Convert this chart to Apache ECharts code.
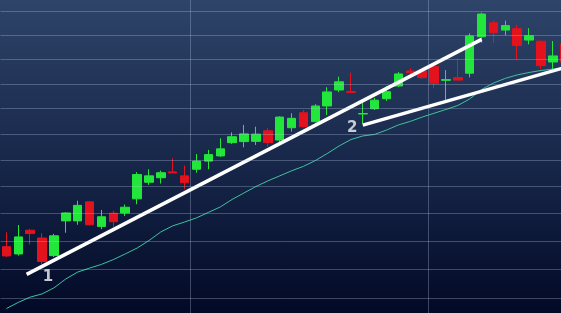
<!DOCTYPE html>
<html><head><meta charset="utf-8">
<script src="https://cdn.jsdelivr.net/npm/echarts@6/dist/echarts.min.js"></script>
<style>html,body{margin:0;padding:0;background:#0d1838;overflow:hidden;width:561px;height:313px;}#chart{width:571px;height:313px;}</style>
</head><body><div id="chart"></div>
<script>
const categories = ['1','2','3','4','5','6','7','8','9','10','11','12','13','14','15','16','17','18','19','20','21','22','23','24','25','26','27','28','29','30','31','32','33','34','35','36','37','38','39','40','41','42','43','44','45','46','47','48'];
// [open, close, low, high]
const candles = [
  [46.80,46.47,46.43,47.32],[46.54,47.15,46.48,47.58],[47.39,47.27,46.88,47.44],[47.11,46.27,46.18,47.28],
  [46.48,47.19,46.43,47.26],[47.73,48.02,47.30,48.05],[47.73,48.30,47.59,48.47],[48.43,47.59,47.56,48.46],
  [47.53,47.88,47.43,48.13],[48.01,47.70,47.51,48.10],[48.02,48.23,47.91,48.33],[48.54,49.45,48.34,49.54],
  [49.16,49.40,49.06,49.65],[49.33,49.52,49.11,49.60],[49.55,49.51,49.51,50.07],[49.40,49.14,48.90,49.79],
  [49.65,49.96,49.52,50.23],[49.96,50.21,49.65,50.39],[50.16,50.43,50.12,50.84],[50.67,50.90,50.62,51.07],
  [50.71,51.01,50.49,51.36],[50.72,51.00,50.58,51.29],[51.13,50.67,50.52,51.23],[50.77,51.67,50.67,51.70],
  [51.25,51.62,51.10,51.82],[51.84,51.29,51.26,51.95],[51.49,52.11,51.46,52.18],[52.11,52.67,51.75,52.86],
  [52.75,53.08,52.66,53.29],[52.69,52.65,52.62,53.45],[51.79,51.81,51.40,52.26],[52.00,52.34,51.95,52.43],
  [52.40,52.68,52.31,52.91],[52.91,53.40,52.87,53.48],[53.52,53.45,53.40,53.63],[53.52,53.25,53.20,53.60],
  [53.70,53.02,52.82,53.73],[53.14,53.17,52.35,53.56],[53.25,53.15,53.15,54.04],[53.43,54.97,53.26,55.08],
  [54.94,55.90,54.69,55.96],[55.53,55.11,54.67,55.65],[55.22,55.41,55.00,55.62],[55.28,54.57,54.00,55.44],
  [54.80,54.98,54.62,55.30],[54.75,53.74,53.60,54.78],[53.89,54.14,53.60,54.76],[54.62,53.89,53.81,54.82]
];
const maValues = [44.64,44.85,45.03,45.14,45.35,45.66,45.90,46.04,46.17,46.34,46.54,46.75,47.02,47.33,47.55,47.69,
  47.84,48.04,48.24,48.52,48.76,49.00,49.21,49.40,49.59,49.76,49.98,50.25,50.54,50.79,50.93,50.99,
  51.16,51.36,51.50,51.67,51.82,51.97,52.13,52.39,52.77,53.03,53.22,53.36,53.46,53.54,53.60,53.64];
const gridLevels = [45,46,47,48,49,50,51,52,53,54,55,56];
const verticalLineAt = [16, 36];
const trend1 = [[1.70,45.82],[40.0,54.83]];
const trend2 = [[30.0,51.35],[47.5,53.73]];
const trendLabels = [{name:'1', value:[3.49,45.73]},{name:'2', value:[29.1,51.22]}];

const gridColor = 'rgba(190,205,235,0.3)';
const chart = echarts.init(document.getElementById('chart'), null, {renderer:'canvas'});
chart.setOption({
  animation: false,
  backgroundColor: {type:'linear', x:0, y:0, x2:0, y2:1, colorStops:[
    {offset:0, color:'#2e4469'},{offset:0.5, color:'#18284b'},{offset:1, color:'#020926'}]},
  grid: {left:0.5, right:0.3, top:0, bottom:0, containLabel:false},
  xAxis: [
    {type:'category', data:categories, boundaryGap:true,
     axisLine:{show:false}, axisTick:{show:false}, axisLabel:{show:false},
     splitLine:{show:true, interval:(i)=>verticalLineAt.includes(i), lineStyle:{color:gridColor, width:1}}},
    {type:'value', min:-0.5, max:47.5, show:false}
  ],
  yAxis: {type:'log', logBase:10, min:44.487, max:56.503,
    axisLine:{show:false}, axisTick:{show:false}, axisLabel:{show:false}, splitLine:{show:false}},
  series: [
    {type:'line', name:'MA', data:maValues, xAxisIndex:0, symbol:'none', z:1,
     lineStyle:{color:'#3fc2a0', width:1},
     markLine:{silent:true, symbol:['none','none'], label:{show:false},
       lineStyle:{color:gridColor, width:1, type:'solid'},
       data: gridLevels.map(v=>({yAxis:v}))}},
    {type:'candlestick', data:candles, xAxisIndex:0, barWidth:9, z:2,
     itemStyle:{color:'#22e63a', color0:'#e3121c', borderColor:'#22e63a', borderColor0:'#e3121c', borderWidth:1}},
    {type:'line', data:trend1, xAxisIndex:1, symbol:'none', z:3, lineStyle:{color:'#ffffff', width:3.5}},
    {type:'line', data:trend2, xAxisIndex:1, symbol:'none', z:3, lineStyle:{color:'#ffffff', width:3.5}},
    {type:'scatter', data:trendLabels, xAxisIndex:1, symbolSize:1, z:4, itemStyle:{color:'rgba(0,0,0,0)'},
     label:{show:true, position:'inside', formatter:(p)=>p.name, color:'#f2f5fa', fontSize:15, fontWeight:'bold', fontFamily:'DejaVu Sans'}}
  ]
});
</script></body></html>
